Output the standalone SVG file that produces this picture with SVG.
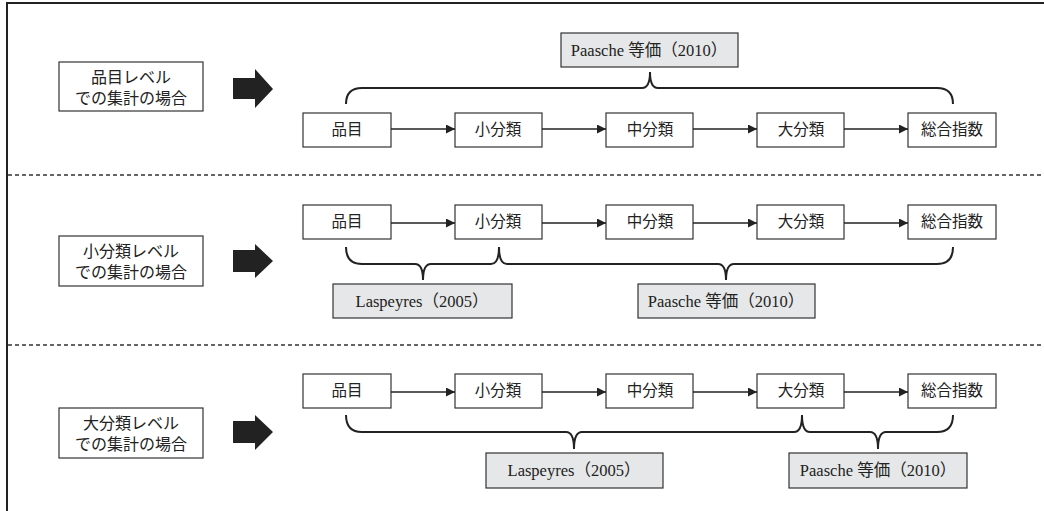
<svg xmlns="http://www.w3.org/2000/svg" width="1044" height="511" viewBox="0 0 1044 511">
<defs>
<style>
.box{fill:#fff;stroke:#333;stroke-width:1.2}
.gbox{fill:#e6e7e8;stroke:#333;stroke-width:1.2}
.t{font-family:"Liberation Serif","Noto Sans CJK JP",serif;font-size:15.5px;fill:#222;text-anchor:middle}
.g{font-family:"Liberation Serif","Noto Sans CJK JP",serif;font-size:16.5px;fill:#222;text-anchor:middle}
.lt{font-family:"Liberation Serif","Noto Sans CJK JP",serif;font-size:16px;fill:#222;text-anchor:middle}
.conn{stroke:#222;stroke-width:1.3;fill:none}
.brace{stroke:#222;stroke-width:2;fill:none}
.big{fill:#222}
.dash{stroke:#333;stroke-width:1.5;stroke-dasharray:4,3}
</style>
<marker id="ah" viewBox="0 0 10 10" refX="10" refY="5" markerWidth="10" markerHeight="9" markerUnits="userSpaceOnUse" orient="auto"><path d="M0,0 L10,5 L0,10 Z" fill="#222"/></marker>
</defs>
<rect width="1044" height="511" fill="#fff"/>
<g id="frame">
<line x1="6" y1="3" x2="1044" y2="3" stroke="#222" stroke-width="2"/>
<line x1="7" y1="2" x2="7" y2="511" stroke="#222" stroke-width="2"/>
<line class="dash" x1="8" y1="175" x2="1044" y2="175"/>
<line class="dash" x1="8" y1="345" x2="1044" y2="345"/>
</g>
<g id="row1-label"><rect class="box" x="59" y="62" width="144" height="49"/><text class="lt" x="131" y="83">品目レベル</text><text class="lt" x="131" y="104">での集計の場合</text></g>
<g id="row2-label"><rect class="box" x="59" y="236" width="144" height="50"/><text class="lt" x="131" y="257">小分類レベル</text><text class="lt" x="131" y="278">での集計の場合</text></g>
<g id="row3-label"><rect class="box" x="59" y="408" width="144" height="50"/><text class="lt" x="131" y="429">大分類レベル</text><text class="lt" x="131" y="450">での集計の場合</text></g>
<g id="big-arrows">
<path class="big" d="M233,78 H255 V69 L273,89 L255,108 V99 H233 Z"/>
<path class="big" d="M233,250 H255 V244 L273,261 L255,278 V272 H233 Z"/>
<path class="big" d="M233,421 H255 V415 L273,432 L255,450 V443 H233 Z"/>
</g>
<g id="row1-nodes">
<g id="r1-hinmoku"><rect class="box" x="303" y="113" width="88" height="34"/><text class="t" x="347" y="135">品目</text></g>
<g id="r1-sho"><rect class="box" x="455" y="113" width="87" height="34"/><text class="t" x="498" y="135">小分類</text></g>
<g id="r1-chu"><rect class="box" x="606" y="113" width="87" height="34"/><text class="t" x="650" y="135">中分類</text></g>
<g id="r1-dai"><rect class="box" x="757" y="113" width="87" height="34"/><text class="t" x="801" y="135">大分類</text></g>
<g id="r1-sogo"><rect class="box" x="908" y="113" width="88" height="34"/><text class="t" x="952" y="135">総合指数</text></g>
<g id="r1-paasche"><rect class="gbox" x="561" y="33" width="177" height="34"/><text class="g" x="649" y="56">Paasche 等価（2010）</text></g>
</g>
<g id="row2-nodes">
<g id="r2-hinmoku"><rect class="box" x="303" y="205" width="88" height="34"/><text class="t" x="347" y="227">品目</text></g>
<g id="r2-sho"><rect class="box" x="455" y="205" width="87" height="34"/><text class="t" x="498" y="227">小分類</text></g>
<g id="r2-chu"><rect class="box" x="606" y="205" width="87" height="34"/><text class="t" x="650" y="227">中分類</text></g>
<g id="r2-dai"><rect class="box" x="757" y="205" width="87" height="34"/><text class="t" x="801" y="227">大分類</text></g>
<g id="r2-sogo"><rect class="box" x="908" y="205" width="88" height="34"/><text class="t" x="952" y="227">総合指数</text></g>
<g id="r2-laspeyres"><rect class="gbox" x="333" y="284" width="179" height="34"/><text class="g" x="422" y="307">Laspeyres（2005）</text></g>
<g id="r2-paasche"><rect class="gbox" x="638" y="284" width="177" height="34"/><text class="g" x="726" y="307">Paasche 等価（2010）</text></g>
</g>
<g id="row3-nodes">
<g id="r3-hinmoku"><rect class="box" x="303" y="374" width="88" height="34"/><text class="t" x="347" y="396">品目</text></g>
<g id="r3-sho"><rect class="box" x="455" y="374" width="87" height="34"/><text class="t" x="498" y="396">小分類</text></g>
<g id="r3-chu"><rect class="box" x="606" y="374" width="87" height="34"/><text class="t" x="650" y="396">中分類</text></g>
<g id="r3-dai"><rect class="box" x="757" y="374" width="87" height="34"/><text class="t" x="801" y="396">大分類</text></g>
<g id="r3-sogo"><rect class="box" x="908" y="374" width="88" height="34"/><text class="t" x="952" y="396">総合指数</text></g>
<g id="r3-laspeyres"><rect class="gbox" x="486" y="453" width="177" height="35"/><text class="g" x="574" y="476">Laspeyres（2005）</text></g>
<g id="r3-paasche"><rect class="gbox" x="789" y="453" width="178" height="35"/><text class="g" x="878" y="476">Paasche 等価（2010）</text></g>
</g>
<g id="connectors">
<line class="conn" x1="391" y1="129" x2="455" y2="129" marker-end="url(#ah)"/>
<line class="conn" x1="542" y1="129" x2="606" y2="129" marker-end="url(#ah)"/>
<line class="conn" x1="693" y1="129" x2="757" y2="129" marker-end="url(#ah)"/>
<line class="conn" x1="844" y1="129" x2="908" y2="129" marker-end="url(#ah)"/>
<line class="conn" x1="391" y1="223" x2="455" y2="223" marker-end="url(#ah)"/>
<line class="conn" x1="542" y1="223" x2="606" y2="223" marker-end="url(#ah)"/>
<line class="conn" x1="693" y1="223" x2="757" y2="223" marker-end="url(#ah)"/>
<line class="conn" x1="844" y1="223" x2="908" y2="223" marker-end="url(#ah)"/>
<line class="conn" x1="391" y1="392" x2="455" y2="392" marker-end="url(#ah)"/>
<line class="conn" x1="542" y1="392" x2="606" y2="392" marker-end="url(#ah)"/>
<line class="conn" x1="693" y1="392" x2="757" y2="392" marker-end="url(#ah)"/>
<line class="conn" x1="844" y1="392" x2="908" y2="392" marker-end="url(#ah)"/>
<path class="brace" d="M346,104 Q346,88 362,88 H642 Q650,88 650,72 Q650,88 658,88 H937 Q953,88 953,104"/>
<path class="brace" d="M346,247 Q346,264 362,264 H415 Q423,264 423,280 Q423,264 431,264 H491 Q499,264 499,247 Q499,264 507,264 H718 Q726,264 726,280 Q726,264 734,264 H937 Q953,264 953,247"/>
<path class="brace" d="M346,415 Q346,432 362,432 H566 Q574,432 574,449 Q574,432 582,432 H794 Q802,432 802,415 Q802,432 810,432 H870 Q878,432 878,449 Q878,432 886,432 H937 Q953,432 953,415"/>
</g>
</svg>
